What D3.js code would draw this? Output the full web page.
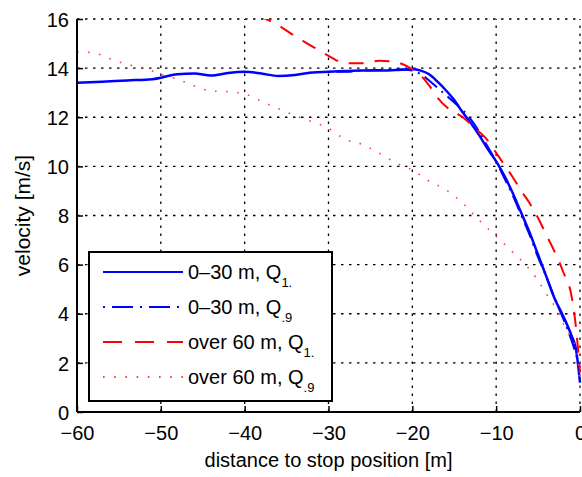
<!DOCTYPE html>
<html>
<head>
<meta charset="utf-8">
<script src="https://cdn.jsdelivr.net/npm/d3@7"></script>
<style>
  body { margin: 0; background: #fff; }
  text { font-family: "Liberation Sans", Arial, sans-serif; fill: #000; }
</style>
</head>
<body>
<svg id="chart" width="582" height="477"></svg>
<script>
// series values (distance [m], velocity [m/s])
const q1NearX = [-60, -57, -54, -51, -48, -46, -44, -42, -40, -38, -36, -34, -32, -30, -28, -26, -24, -22, -20, -19, -18, -17, -16, -15, -14, -13, -12, -11, -10, -9, -8, -7, -6, -5, -4, -3, -2, -1, -0.5, 0];
const q1NearY = [13.4, 13.45, 13.5, 13.55, 13.75, 13.78, 13.7, 13.8, 13.85, 13.78, 13.68, 13.72, 13.82, 13.85, 13.88, 13.9, 13.9, 13.92, 13.95, 13.9, 13.75, 13.45, 13.1, 12.7, 12.2, 11.75, 11.25, 10.7, 10.2, 9.6, 8.9, 8.1, 7.3, 6.4, 5.5, 4.6, 3.9, 3.1, 2.6, 1.2];

const q9NearX = [-30, -28, -26, -24, -22, -20, -19, -18, -17, -16, -15, -14, -13, -12, -11, -10, -9, -8, -7, -6, -5, -4, -3, -2, -1, 0];
const q9NearY = [13.85, 13.85, 13.9, 13.92, 13.95, 13.9, 13.75, 13.5, 13.2, 12.9, 12.6, 12.3, 11.9, 11.4, 10.8, 10.2, 9.5, 8.8, 8.0, 7.2, 6.3, 5.5, 4.6, 3.8, 2.9, 1.8];

const q1FarX = [-38.5, -36, -34, -32, -30, -28, -26, -24, -22, -20.5, -19.5, -18, -17, -15.5, -14, -12.5, -11, -10, -9, -8, -7, -6, -5, -4, -3, -2, -1, -0.5, 0];
const q1FarY = [16.15, 15.75, 15.3, 14.9, 14.5, 14.2, 14.2, 14.3, 14.25, 14.05, 13.85, 13.3, 12.8, 12.3, 12.0, 11.55, 11.05, 10.55, 10.05, 9.55, 9.0, 8.5, 7.9, 7.2, 6.5, 5.7, 4.7, 3.5, 1.6];

const q9FarX = [-60, -58, -56, -54, -52, -50, -48, -46, -44, -42, -40, -38, -36, -34, -32, -30, -28, -26, -24, -22, -20, -18, -16, -14, -12, -10, -8, -6, -5, -4, -3, -2, -1, -0.4, 0];
const q9FarY = [14.67, 14.62, 14.37, 14.15, 14.0, 13.75, 13.55, 13.27, 13.07, 13.04, 12.95, 12.65, 12.35, 12.07, 11.82, 11.55, 11.1, 10.9, 10.55, 10.15, 9.85, 9.4, 9.05, 8.5, 7.8, 7.15, 6.5, 5.8, 5.35, 4.8, 4.3, 3.6, 3.0, 2.6, 0.8];

const xTicks = [-60, -50, -40, -30, -20, -10, 0];
const yTicks = [0, 2, 4, 6, 8, 10, 12, 14, 16];

const legendLabels = [
  ["0\u201330 m, Q", "1."],
  ["0\u201330 m, Q", ".9"],
  ["over 60 m, Q", "1."],
  ["over 60 m, Q", ".9"]
];

const svg = d3.select("#chart");
const mLeft = 77, mRight = 580, mTop = 19, mBottom = 412;

const x = d3.scaleLinear().domain([-60, 0]).range([mLeft, mRight]);
const y = d3.scaleLinear().domain([0, 16]).range([mBottom, mTop]);

// grid
const grid = svg.append("g").attr("stroke", "#000").attr("stroke-width", 1.3)
  .attr("stroke-dasharray", "2.5,5.5");
grid.selectAll(".gx").data(xTicks.slice(1)).enter().append("line")
  .attr("x1", d => x(d)).attr("x2", d => x(d))
  .attr("y1", mBottom).attr("y2", mTop);
grid.selectAll(".gy").data(yTicks.slice(1)).enter().append("line")
  .attr("y1", d => y(d)).attr("y2", d => y(d))
  .attr("x1", mLeft).attr("x2", mRight);

// curves
svg.append("clipPath").attr("id", "clip").append("rect")
  .attr("x", mLeft).attr("y", mTop).attr("width", mRight - mLeft + 2).attr("height", mBottom - mTop);

const mk = (xs, ys) => xs.map((v, i) => [v, ys[i]]);
const line = d3.line().x(p => x(p[0])).y(p => y(p[1])).curve(d3.curveMonotoneX);

const series = [
  { data: mk(q1NearX, q1NearY), color: "#0000ff", width: 2.5, dash: null },
  { data: mk(q9NearX, q9NearY), color: "#0000ff", width: 2, dash: "2,6,16,6" },
  { data: mk(q1FarX, q1FarY), color: "#ff0000", width: 2, dash: "15,11" },
  { data: mk(q9FarX, q9FarY), color: "#ff4040", width: 1.6, dash: "1.6,9.5" }
];

const curves = svg.append("g").attr("clip-path", "url(#clip)");
curves.selectAll("path").data(series).enter().append("path")
  .attr("fill", "none")
  .attr("stroke", d => d.color)
  .attr("stroke-width", d => d.width)
  .attr("stroke-dasharray", d => d.dash)
  .attr("d", d => line(d.data));

// axes (ticks inward, box off)
const xAxis = svg.append("g").attr("transform", `translate(0,${mBottom})`)
  .call(d3.axisBottom(x).tickValues(xTicks).tickSize(-6).tickPadding(14)
    .tickFormat(d => d < 0 ? "\u2212" + Math.abs(d) : d));
const yAxis = svg.append("g").attr("transform", `translate(${mLeft},0)`)
  .call(d3.axisLeft(y).tickValues(yTicks).tickSize(-6).tickPadding(8));
[xAxis, yAxis].forEach(a => {
  a.select(".domain").attr("stroke", "#000").attr("stroke-width", 2);
  a.selectAll(".tick line").attr("stroke", "#000").attr("stroke-width", 1.5);
  a.selectAll(".tick text").attr("font-size", 20).attr("font-family", "Liberation Sans, Arial, sans-serif");
});
xAxis.select(".domain").attr("d", `M${mLeft},0H${mRight}`);
yAxis.select(".domain").attr("d", `M0,${mBottom}V${mTop}`);
yAxis.selectAll(".tick text").attr("dy", "0.36em");

svg.append("text").attr("x", (mLeft + mRight) / 2).attr("y", 467)
  .attr("text-anchor", "middle").attr("font-size", 20)
  .text("distance to stop position [m]");
svg.append("text").attr("transform", `translate(30,${(mTop + mBottom) / 2}) rotate(-90)`)
  .attr("text-anchor", "middle").attr("font-size", 21)
  .text("velocity [m/s]");

// legend
const lg = svg.append("g");
lg.append("rect").attr("x", 89).attr("y", 252).attr("width", 243).attr("height", 149)
  .attr("fill", "#fff").attr("stroke", "#000").attr("stroke-width", 2);
const rows = lg.selectAll(".row").data(series).enter().append("g")
  .attr("transform", (d, i) => `translate(0,${272 + i * 35})`);
rows.append("line").attr("x1", 103).attr("x2", 183)
  .attr("stroke", d => d.color).attr("stroke-width", 2)
  .attr("stroke-dasharray", (d, i) => ["none", "2,7,21,7", "19,13", "1.6,9.6"][i]);
const lt = rows.append("text").attr("x", 188).attr("y", 7).attr("font-size", 20);
lt.append("tspan").text((d, i) => legendLabels[i][0]);
lt.append("tspan").attr("dy", 8).attr("font-size", 13).text((d, i) => legendLabels[i][1]);
</script>
</body>
</html>
